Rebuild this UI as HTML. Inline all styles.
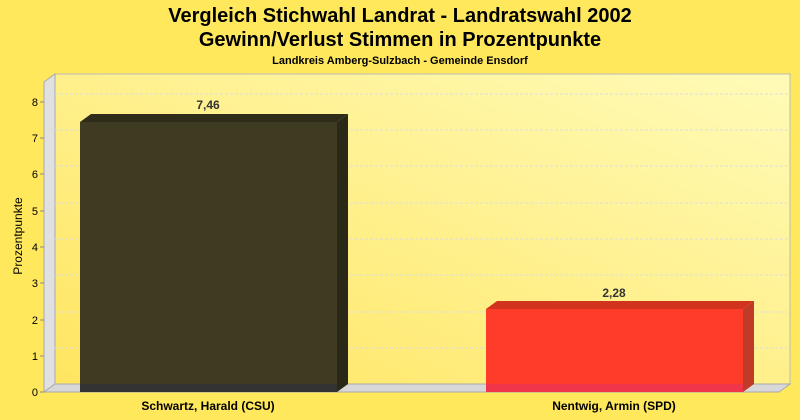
<!DOCTYPE html>
<html><head><style>body{margin:0;background:#ffe85c;}svg{display:block}</style></head><body>
<svg width="800" height="420" xmlns="http://www.w3.org/2000/svg" font-family="Liberation Sans, sans-serif">
<defs>
<linearGradient id="bg" x1="0" y1="1" x2="1" y2="0"><stop offset="0" stop-color="#ffe560"/><stop offset="1" stop-color="#fffbb8"/></linearGradient>
</defs>
<rect width="800" height="420" fill="#ffe85c"/>
<text x="400" y="22" font-size="20" font-weight="bold" text-anchor="middle">Vergleich Stichwahl Landrat - Landratswahl 2002</text>
<text x="400" y="46" font-size="20" font-weight="bold" text-anchor="middle">Gewinn/Verlust Stimmen in Prozentpunkte</text>
<text x="400" y="64" font-size="11" font-weight="bold" text-anchor="middle">Landkreis Amberg-Sulzbach - Gemeinde Ensdorf</text>
<rect x="55" y="74" width="735" height="310" fill="url(#bg)" stroke="#bbb" stroke-width="1"/>
<polygon points="44,82 55,74 55,384 44,392" fill="#e0e0e0" stroke="#aaa"/>
<polygon points="44,392 55,384 790,384 779,392" fill="#d8d8d8" stroke="#aaa"/>
<g stroke="#ddd" stroke-dasharray="3,2" stroke-width="1">
<line x1="55" x2="790" y1="348" y2="348"/><line x1="55" x2="790" y1="312" y2="312"/><line x1="55" x2="790" y1="275" y2="275"/><line x1="55" x2="790" y1="239" y2="239"/><line x1="55" x2="790" y1="203" y2="203"/><line x1="55" x2="790" y1="166" y2="166"/><line x1="55" x2="790" y1="130" y2="130"/><line x1="55" x2="790" y1="94" y2="94"/>
</g>
<g font-size="11" text-anchor="end">
<text x="38" y="396">0</text><text x="38" y="360">1</text><text x="38" y="324">2</text><text x="38" y="287">3</text><text x="38" y="251">4</text><text x="38" y="215">5</text><text x="38" y="178">6</text><text x="38" y="142">7</text><text x="38" y="106">8</text>
</g>
<g stroke="#888"><line x1="40" x2="44" y1="392" y2="392"/><line x1="40" x2="44" y1="356" y2="356"/><line x1="40" x2="44" y1="320" y2="320"/><line x1="40" x2="44" y1="283" y2="283"/><line x1="40" x2="44" y1="247" y2="247"/><line x1="40" x2="44" y1="211" y2="211"/><line x1="40" x2="44" y1="174" y2="174"/><line x1="40" x2="44" y1="138" y2="138"/><line x1="40" x2="44" y1="102" y2="102"/></g>
<text transform="translate(22,236) rotate(-90)" font-size="12" text-anchor="middle">Prozentpunkte</text>
<polygon points="80,122 91,114 348,114 337,122" fill="#2f2d1a"/>
<polygon points="337,122 348,114 348,384 337,392" fill="#2a2816"/>
<rect x="80" y="122" width="257" height="270" fill="#3e3b22"/>
<rect x="80" y="384" width="257" height="8" fill="#333"/>
<text x="208" y="109" font-size="12" font-weight="bold" text-anchor="middle" fill="#333">7,46</text>
<polygon points="486,309 497,301 754,301 743,309" fill="#d2331f"/>
<polygon points="743,309 754,301 754,384 743,392" fill="#bf3a27"/>
<rect x="486" y="309" width="257" height="83" fill="#ff3b2a"/>
<rect x="486" y="384" width="257" height="8" fill="#f0344a"/>
<text x="614" y="297" font-size="12" font-weight="bold" text-anchor="middle" fill="#333">2,28</text>
<text x="208" y="410" font-size="12" font-weight="bold" text-anchor="middle">Schwartz, Harald (CSU)</text>
<text x="614" y="410" font-size="12" font-weight="bold" text-anchor="middle">Nentwig, Armin (SPD)</text>
</svg>
</body></html>
